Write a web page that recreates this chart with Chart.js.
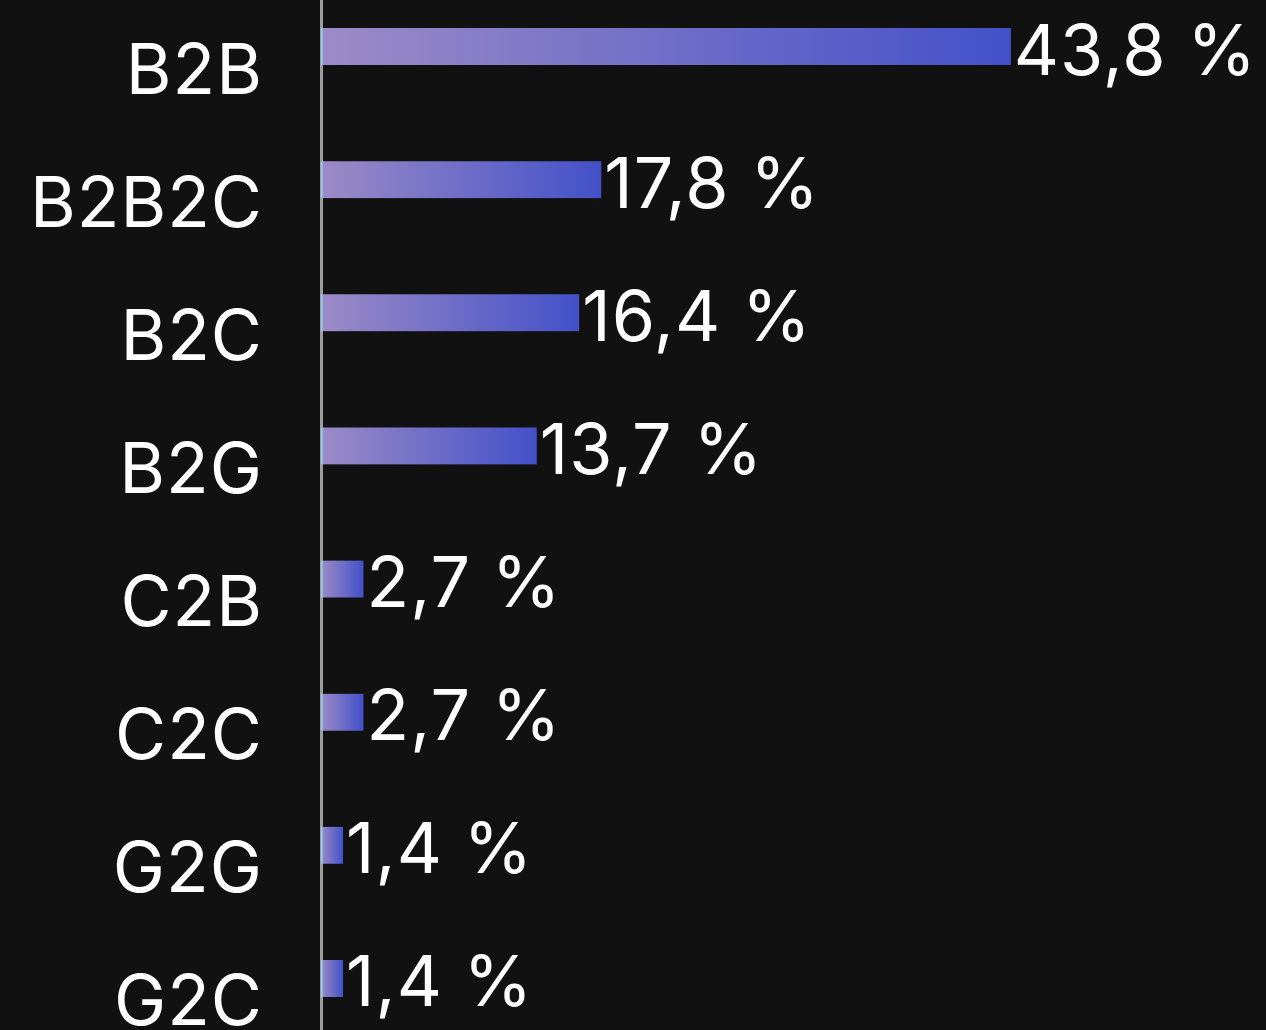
<!DOCTYPE html>
<html>
<head>
<meta charset="utf-8">
<script src="https://cdn.jsdelivr.net/npm/chart.js@4/dist/chart.umd.min.js"></script>
<style>
	html, body {
		margin: 0;
		padding: 0;
		background: #111111;
		overflow: hidden;
	}
	#wrap {
		position: absolute;
		left: 0;
		top: -20px;
		width: 1266px;
		height: 1065px;
	}
</style>
</head>
<body>
<div id="wrap"><canvas id="modelChart"></canvas></div>
<script>
const categories = ['B2B', 'B2B2C', 'B2C', 'B2G', 'C2B', 'C2C', 'G2G', 'G2C'];
const shares = [43.8, 17.8, 16.4, 13.7, 2.7, 2.7, 1.4, 1.4];
const axisMax = 60;

const fontFamily = 'Inter, "Noto Sans", sans-serif';
const fontSize = 70;
const textColor = '#ffffff';

// each bar fades from lavender at the axis to blue at its own end
function barGradient(context) {
	const chart = context.chart;
	if (!chart.chartArea || context.dataIndex === undefined) {
		return '#6f6ec7';
	}
	const x = chart.scales.x;
	const x0 = x.getPixelForValue(0);
	const x1 = x.getPixelForValue(shares[context.dataIndex]);
	const g = chart.ctx.createLinearGradient(x0, 0, Math.max(x1, x0 + 1), 0);
	g.addColorStop(0, '#9c8bc6');
	g.addColorStop(1, '#4351c9');
	return g;
}

// slightly looser tracking for every text drawn on the canvas
const tracking = {
	id: 'tracking',
	beforeDraw(chart) {
		chart.ctx.letterSpacing = '1px';
	}
};

// percentage text right after each bar, comma decimal
const valueLabels = {
	id: 'valueLabels',
	afterDatasetsDraw(chart) {
		const ctx = chart.ctx;
		const meta = chart.getDatasetMeta(0);
		ctx.save();
		ctx.font = fontSize + 'px ' + fontFamily;
		ctx.fillStyle = textColor;
		ctx.textAlign = 'left';
		ctx.textBaseline = 'middle';
		meta.data.forEach((bar, i) => {
			const text = shares[i].toFixed(1).replace('.', ',') + ' %';
			ctx.fillText(text, bar.x + 3, bar.y + 7);
		});
		ctx.restore();
	}
};

new Chart(document.getElementById('modelChart'), {
	type: 'bar',
	data: {
		labels: categories,
		datasets: [{
			data: shares,
			backgroundColor: barGradient,
			borderColor: '#8fcdee',
			borderWidth: { left: 2, right: 0, top: 0, bottom: 0 },
			borderSkipped: false,
			barThickness: 37
		}]
	},
	options: {
		indexAxis: 'y',
		responsive: true,
		maintainAspectRatio: false,
		animation: false,
		layout: { padding: 0 },
		scales: {
			x: {
				display: false,
				min: 0,
				max: axisMax
			},
			y: {
				afterFit: (scale) => {
					scale.width = 321;
					scale.paddingTop = 0;
					scale.paddingBottom = 0;
				},
				grid: { display: false },
				border: { display: true, color: '#9c9c9c', width: 3 },
				ticks: {
					color: textColor,
					padding: 50,
					labelOffset: 26,
					font: { family: fontFamily, size: fontSize }
				}
			}
		},
		plugins: {
			legend: { display: false },
			tooltip: { enabled: false }
		}
	},
	plugins: [tracking, valueLabels]
});
</script>
</body>
</html>
